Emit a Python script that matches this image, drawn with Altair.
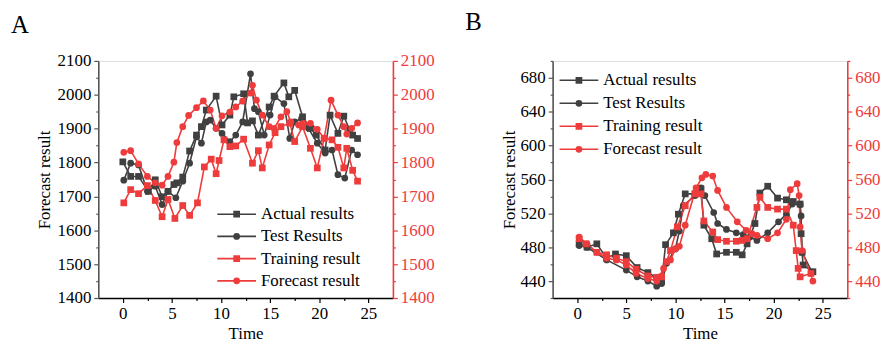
import altair as alt
import pandas as pd

SERIES = ["Actual results", "Test Results", "Training result", "Forecast result"]
DARK = "#404040"
RED = "#ee3b3b"
FONT = "Liberation Serif"

# ---------------- Panel A data ----------------
A_actual_t = [0.0, 0.8, 1.6, 2.6, 3.3, 4.0, 4.6, 5.2, 5.5, 6.1, 6.8, 7.5, 8.0, 8.5, 9.5, 10.1, 10.9, 11.3, 12.3, 12.7, 13.2, 13.8, 14.9, 15.4, 16.4, 16.9, 17.5, 18.3, 19.1, 19.7, 20.6, 21.1, 21.9, 22.5, 23.1, 23.4, 23.9]
A_actual_v = [1802, 1759, 1759, 1715, 1749, 1699, 1715, 1735, 1740, 1757, 1834, 1881, 1906, 1955, 1996, 1911, 1940, 1994, 2003, 1917, 1923, 1881, 1964, 1996, 2035, 1994, 2013, 1935, 1901, 1881, 1837, 1940, 1886, 1937, 1896, 1881, 1871]
A_test_t = [0.1, 0.8, 1.6, 2.5, 3.3, 4.0, 4.6, 5.4, 6.1, 6.8, 7.5, 8.0, 8.5, 8.9, 9.5, 10.1, 10.9, 11.5, 12.2, 13.0, 13.4, 13.8, 14.4, 15.0, 15.5, 16.4, 17.0, 17.5, 18.2, 18.9, 19.8, 20.6, 21.3, 21.9, 22.6, 23.3, 23.9]
A_test_v = [1748, 1798, 1793, 1715, 1730, 1676, 1715, 1696, 1745, 1798, 1876, 1857, 1920, 1925, 1901, 1886, 1862, 1881, 1920, 2062, 1959, 1950, 1881, 1940, 1994, 1974, 1871, 1920, 1930, 1901, 1857, 1828, 1837, 1764, 1754, 1837, 1823]
A_train_t = [0.1, 0.8, 1.6, 2.5, 3.3, 4.0, 4.6, 5.3, 6.1, 6.8, 7.6, 8.3, 9.0, 9.5, 9.8, 10.3, 10.9, 11.5, 12.3, 13.2, 13.8, 14.2, 14.9, 15.5, 16.1, 17.0, 17.5, 18.3, 19.1, 19.8, 20.5, 21.3, 21.9, 22.5, 22.8, 23.4, 23.9]
A_train_v = [1681, 1720, 1708, 1732, 1688, 1640, 1691, 1635, 1673, 1644, 1681, 1787, 1810, 1767, 1806, 1867, 1847, 1849, 1869, 1798, 1835, 1784, 1852, 1888, 1906, 1916, 1862, 1906, 1842, 1784, 1871, 1867, 1845, 1784, 1842, 1777, 1745]
A_fore_t = [0.1, 0.8, 1.6, 2.5, 3.3, 4.0, 4.6, 5.2, 5.5, 6.1, 6.7, 7.5, 8.2, 8.9, 9.5, 10.1, 10.9, 11.5, 12.2, 13.0, 13.2, 13.6, 14.2, 14.9, 15.4, 16.1, 16.7, 17.1, 17.9, 18.4, 19.1, 19.8, 20.5, 21.2, 21.9, 22.5, 22.8, 23.3, 23.9]
A_fore_v = [1830, 1835, 1796, 1759, 1740, 1733, 1759, 1801, 1859, 1906, 1939, 1962, 1982, 1955, 1901, 1938, 1949, 1964, 1981, 2005, 2028, 1984, 1940, 1906, 1901, 1935, 1950, 1920, 1911, 1916, 1916, 1898, 1872, 1984, 1940, 1906, 1884, 1901, 1917]

# ---------------- Panel B data ----------------
B_actual_t = [0.2, 1.0, 2.0, 3.0, 3.9, 5.0, 6.1, 7.2, 8.1, 8.6, 9.0, 9.8, 10.3, 11.0, 12.0, 12.6, 12.9, 13.7, 14.2, 15.2, 16.2, 16.8, 17.3, 18.1, 18.6, 19.4, 20.4, 21.3, 22.0, 22.7, 22.8, 22.9, 23.0, 24.0]
B_actual_v = [484, 480, 484, 467, 472, 470, 456, 450, 444, 440, 483, 497, 519, 543, 543, 549, 506, 490, 472, 474, 474, 471, 484, 508, 544, 552, 538, 536, 534, 531, 496, 474, 459, 451]
B_test_t = [0.2, 1.0, 3.0, 5.0, 6.1, 7.2, 8.1, 8.6, 9.1, 10.0, 10.4, 10.8, 12.0, 12.6, 13.0, 13.9, 14.3, 15.2, 16.2, 16.9, 17.6, 18.3, 19.4, 20.5, 21.3, 21.9, 22.7, 22.8, 22.9, 23.9]
B_test_v = [482, 480, 465, 453, 445, 440, 434, 437, 461, 478, 499, 529, 541, 550, 541, 521, 508, 501, 497, 495, 492, 488, 497, 510, 519, 531, 530, 517, 474, 451]
B_train_t = [0.2, 0.9, 2.0, 3.0, 4.0, 5.0, 6.0, 7.2, 8.1, 8.6, 9.1, 9.5, 10.2, 11.0, 12.0, 12.6, 12.9, 13.8, 14.3, 15.2, 16.2, 16.8, 17.3, 18.3, 18.6, 19.4, 20.4, 21.3, 22.0, 22.3, 22.5, 22.7, 23.8]
B_train_v = [490, 484, 474, 471, 467, 463, 454, 446, 444, 445, 463, 476, 504, 529, 543, 543, 511, 498, 489, 487, 487, 488, 490, 527, 539, 527, 525, 525, 506, 476, 455, 445, 449]
B_fore_t = [0.2, 1.0, 2.0, 3.0, 4.0, 5.0, 6.0, 7.2, 8.1, 8.8, 9.5, 10.0, 10.4, 11.0, 12.1, 12.7, 13.1, 13.8, 14.3, 15.2, 16.3, 17.2, 17.8, 18.3, 19.4, 20.4, 21.3, 21.7, 22.4, 22.6, 22.7, 22.9, 24.0]
B_fore_v = [492, 484, 474, 467, 465, 459, 449, 443, 440, 455, 465, 478, 481, 506, 550, 562, 566, 564, 547, 527, 510, 500, 496, 494, 490, 497, 513, 548, 555, 541, 504, 476, 440]

A_yvalues = [1400, 1450, 1500, 1550, 1600, 1650, 1700, 1750, 1800, 1850, 1900, 1950, 2000, 2050, 2100]
B_yvalues = [420, 440, 460, 480, 500, 520, 540, 560, 580, 600, 620, 640, 660, 680, 700]
X_VALUES = [0, 2.5, 5, 7.5, 10, 12.5, 15, 17.5, 20, 22.5, 25]

W, H = 297, 239


def long_df(parts):
    rows = []
    for name, ts, vs in parts:
        for t, v in zip(ts, vs):
            rows.append({"series": name, "t": t, "v": v})
    return pd.DataFrame(rows)


def panel(df, ydom, yvalues, ymajor, letter, letter_y, lx, ly, rowpad, ytitle_pad):
    xs = alt.Scale(domain=[-2.5, 27.5], nice=False, zero=False)
    ys = alt.Scale(domain=ydom, nice=False, zero=False)
    cscale = alt.Scale(domain=SERIES, range=[DARK, DARK, RED, RED])
    sscale = alt.Scale(domain=SERIES[::-1], range=[RED, RED, DARK, DARK])
    shscale = alt.Scale(domain=SERIES, range=["square", "circle", "square", "circle"])
    xmaj = "datum.value % 5 === 0"
    ymaj = f"datum.value % {ymajor} === 0"

    x_bottom = alt.Axis(orient="bottom", values=X_VALUES,
                        labelExpr=f"{xmaj} ? datum.label : ''",
                        tickSize={"expr": f"{xmaj} ? 4.5 : 2.5"},
                        tickColor="black", domainColor="black", domainWidth=1.3, tickWidth=1.2,
                        labelPadding=3, labelFont=FONT, labelFontSize=17, labelColor="black",
                        labelFlush=False, labelOverlap=False, grid=False,
                        title="Time", titlePadding=4, titleFont=FONT, titleFontSize=17,
                        titleFontWeight="normal", titleColor="black")
    y_left = alt.Axis(orient="left", values=yvalues, format="d",
                      labelExpr=f"{ymaj} ? datum.label : ''",
                      tickSize={"expr": f"{ymaj} ? 4.5 : 2.5"},
                      tickColor="#555555", domainColor="#555555", domainWidth=1.6, tickWidth=1.2,
                      labelPadding=3, labelFont=FONT, labelFontSize=17, labelColor="black",
                      labelFlush=False, labelOverlap=False, grid=False,
                      title="Forecast result", titlePadding=ytitle_pad, titleFont=FONT,
                      titleFontSize=17, titleFontWeight="normal", titleColor="black")
    y_right = alt.Axis(orient="right", values=yvalues, format="d",
                       labelExpr=f"{ymaj} ? datum.label : ''",
                       tickSize={"expr": f"{ymaj} ? 4.5 : 2.5"},
                       tickColor=RED, domainColor=RED, domainWidth=1.6, tickWidth=1.2,
                       labelPadding=3, labelFont=FONT, labelFontSize=17, labelColor=RED,
                       labelFlush=False, labelOverlap=False, title=None, grid=False)

    common_leg = dict(title=None, orient="none", legendX=lx, legendY=ly, labelFont=FONT,
                      labelFontSize=17, labelColor="black", clipHeight=17, rowPadding=rowpad,
                      padding=0)
    line_leg = alt.Legend(values=SERIES, symbolType="stroke", symbolSize=1521,
                          symbolStrokeWidth=1.6, labelOffset=4, **common_leg)
    mark_leg = alt.Legend(symbolSize=46, symbolOffset=12, labelOpacity=0, symbolStrokeWidth=0,
                          **common_leg)

    base = alt.Chart(df)
    lines = base.mark_line(strokeWidth=1.6).encode(
        x=alt.X("t:Q", scale=xs, axis=x_bottom),
        y=alt.Y("v:Q", scale=ys, axis=y_left),
        stroke=alt.Stroke("series:N", scale=sscale, legend=line_leg),
        detail="series:N",
    )
    markers = base.mark_point(filled=True, size=46, opacity=1).encode(
        x=alt.X("t:Q", scale=xs, axis=None),
        y=alt.Y("v:Q", scale=ys, axis=y_right),
        color=alt.Color("series:N", scale=cscale, legend=mark_leg),
        shape=alt.Shape("series:N", scale=shscale, legend=mark_leg),
    )
    tag = alt.Chart(pd.DataFrame({"letter": [letter]})).mark_text(
        font=FONT, fontSize=25, align="left", baseline="alphabetic", color="black"
    ).encode(x=alt.value(-88), y=alt.value(letter_y), text="letter:N")
    return alt.layer(lines, markers, tag).resolve_axis(
        x="independent", y="independent"
    ).properties(width=W, height=H)


dfA = long_df([("Actual results", A_actual_t, A_actual_v), ("Test Results", A_test_t, A_test_v),
               ("Training result", A_train_t, A_train_v), ("Forecast result", A_fore_t, A_fore_v)])
dfB = long_df([("Actual results", B_actual_t, B_actual_v), ("Test Results", B_test_t, B_test_v),
               ("Training result", B_train_t, B_train_v), ("Forecast result", B_fore_t, B_fore_v)])

pA = panel(dfA, [1400, 2100], A_yvalues, 100, "A", -28, 119, 146, 4.4, 4)
pB = panel(dfB, [420, 700], B_yvalues, 40, "B", -31, 6, 11, 5.2, 1)

chart = alt.hconcat(pA, pB, spacing=161, bounds="flush").resolve_scale(
    x="independent", y="independent", color="independent", stroke="independent",
    shape="independent"
).resolve_legend(color="independent", stroke="independent", shape="independent").properties(
    padding={"left": 2, "top": 0, "right": 0, "bottom": 0}
).configure_view(stroke="black", strokeWidth=1.3).configure(font=FONT)

chart.save("out.html", embed_options={"renderer": "svg", "actions": False})
